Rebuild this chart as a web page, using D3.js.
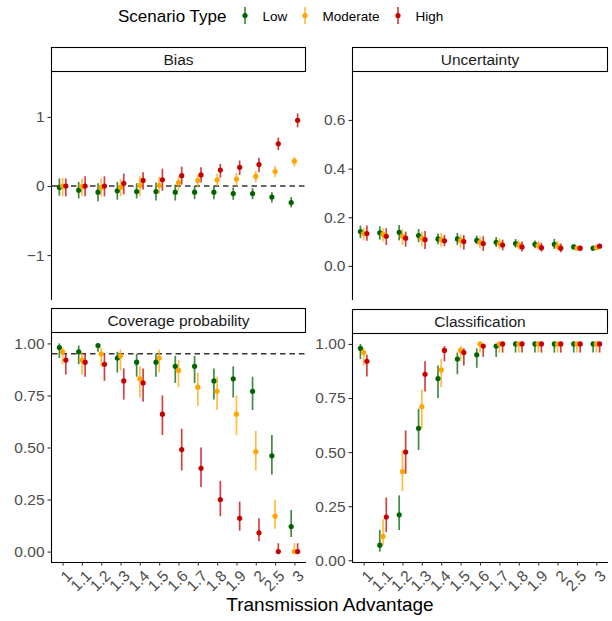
<!DOCTYPE html>
<html>
<head>
<meta charset="utf-8">
<script src="https://cdn.jsdelivr.net/npm/d3@7"></script>
<style>
  body { margin: 0; background: #fff; }
  text { font-family: "Liberation Sans", Arial, sans-serif; }
</style>
</head>
<body>
<div id="chart"></div>
<script>
// categories on the x axis (discrete)
var categories = ["1", "1.1", "1.2", "1.3", "1.4", "1.5", "1.6", "1.7", "1.8", "1.9", "2", "2.5", "3"];
var scenarios = ["Low", "Moderate", "High"];
var colors = ["#006400", "#FFA500", "#C40000"];

// each entry: [estimate, lower, upper]
var biasLow = [[-0.02, -0.14, 0.11], [-0.06, -0.18, 0.06], [-0.09, -0.22, 0.04], [-0.07, -0.20, 0.06], [-0.08, -0.18, 0.04], [-0.08, -0.21, 0.05], [-0.09, -0.21, 0.02], [-0.09, -0.19, 0.00], [-0.09, -0.19, 0.00], [-0.11, -0.20, -0.02], [-0.11, -0.19, -0.03], [-0.16, -0.24, -0.09], [-0.24, -0.31, -0.16]];
var biasModerate = [[0.00, -0.15, 0.12], [-0.01, -0.15, 0.11], [-0.02, -0.15, 0.11], [-0.02, -0.15, 0.10], [0.01, -0.14, 0.14], [0.01, -0.11, 0.13], [0.05, -0.06, 0.14], [0.08, -0.02, 0.17], [0.09, 0.00, 0.18], [0.10, 0.00, 0.19], [0.14, 0.05, 0.22], [0.21, 0.13, 0.29], [0.36, 0.28, 0.42]];
var biasHigh = [[0.00, -0.15, 0.11], [0.00, -0.15, 0.14], [0.00, -0.15, 0.14], [0.04, -0.12, 0.18], [0.08, -0.05, 0.20], [0.09, -0.07, 0.25], [0.15, 0.02, 0.28], [0.16, 0.05, 0.27], [0.23, 0.12, 0.32], [0.27, 0.16, 0.37], [0.31, 0.20, 0.41], [0.61, 0.52, 0.70], [0.95, 0.85, 1.05]];

var uncLow = [[0.141, 0.114, 0.166], [0.136, 0.108, 0.163], [0.138, 0.105, 0.168], [0.125, 0.097, 0.152], [0.111, 0.089, 0.133], [0.111, 0.086, 0.136], [0.105, 0.089, 0.125], [0.097, 0.078, 0.119], [0.092, 0.075, 0.111], [0.089, 0.073, 0.105], [0.089, 0.070, 0.111], [0.078, 0.067, 0.089], [0.073, 0.064, 0.081]];
var uncModerate = [[0.133, 0.105, 0.158], [0.130, 0.100, 0.155], [0.122, 0.086, 0.152], [0.114, 0.081, 0.141], [0.108, 0.078, 0.136], [0.105, 0.075, 0.130], [0.097, 0.073, 0.122], [0.092, 0.070, 0.114], [0.086, 0.067, 0.105], [0.084, 0.067, 0.103], [0.081, 0.064, 0.103], [0.073, 0.064, 0.081], [0.075, 0.067, 0.084]];
var uncHigh = [[0.133, 0.103, 0.166], [0.122, 0.086, 0.155], [0.114, 0.079, 0.141], [0.108, 0.070, 0.144], [0.103, 0.081, 0.127], [0.100, 0.067, 0.127], [0.092, 0.062, 0.122], [0.086, 0.064, 0.108], [0.078, 0.059, 0.100], [0.075, 0.059, 0.095], [0.073, 0.056, 0.092], [0.073, 0.062, 0.081], [0.081, 0.073, 0.089]];

var covLow = [[0.98, 0.93, 1.00], [0.96, 0.90, 0.99], [0.99, 0.96, 1.00], [0.93, 0.86, 0.96], [0.91, 0.84, 0.95], [0.91, 0.84, 0.95], [0.89, 0.81, 0.94], [0.89, 0.81, 0.94], [0.82, 0.73, 0.88], [0.83, 0.74, 0.89], [0.77, 0.68, 0.84], [0.46, 0.37, 0.56], [0.12, 0.07, 0.20]];
var covModerate = [[0.96, 0.90, 0.98], [0.92, 0.85, 0.96], [0.95, 0.89, 0.98], [0.94, 0.87, 0.97], [0.83, 0.74, 0.89], [0.93, 0.86, 0.97], [0.87, 0.79, 0.92], [0.79, 0.70, 0.86], [0.77, 0.68, 0.84], [0.66, 0.56, 0.75], [0.48, 0.39, 0.58], [0.17, 0.11, 0.25], [0.00, 0.00, 0.04]];
var covHigh = [[0.92, 0.85, 0.95], [0.91, 0.84, 0.95], [0.90, 0.82, 0.95], [0.82, 0.73, 0.88], [0.81, 0.72, 0.88], [0.66, 0.56, 0.75], [0.49, 0.39, 0.59], [0.40, 0.31, 0.50], [0.25, 0.17, 0.34], [0.16, 0.10, 0.24], [0.09, 0.05, 0.16], [0.00, 0.00, 0.04], [0.00, 0.00, 0.04]];

var clsLow = [[0.98, 0.93, 1.00], [0.07, 0.04, 0.14], [0.21, 0.14, 0.30], [0.61, 0.51, 0.70], [0.84, 0.75, 0.90], [0.93, 0.86, 0.96], [0.95, 0.89, 0.98], [0.99, 0.94, 1.00], [1.00, 0.96, 1.00], [1.00, 0.96, 1.00], [1.00, 0.96, 1.00], [1.00, 0.96, 1.00], [1.00, 0.96, 1.00]];
var clsModerate = [[0.96, 0.90, 0.98], [0.11, 0.07, 0.19], [0.41, 0.32, 0.51], [0.71, 0.61, 0.79], [0.88, 0.80, 0.93], [0.97, 0.92, 0.99], [1.00, 0.96, 1.00], [1.00, 0.96, 1.00], [1.00, 0.96, 1.00], [1.00, 0.96, 1.00], [1.00, 0.96, 1.00], [1.00, 0.96, 1.00], [1.00, 0.96, 1.00]];
var clsHigh = [[0.92, 0.85, 0.95], [0.20, 0.13, 0.29], [0.50, 0.40, 0.60], [0.86, 0.78, 0.92], [0.97, 0.92, 0.99], [0.96, 0.90, 0.98], [0.99, 0.94, 1.00], [1.00, 0.96, 1.00], [1.00, 0.96, 1.00], [1.00, 0.96, 1.00], [1.00, 0.96, 1.00], [1.00, 0.96, 1.00], [1.00, 0.96, 1.00]];

var svgWidth = 612;
var svgHeight = 621;

var svg = d3.select("#chart")
  .append("svg")
  .attr("width", svgWidth)
  .attr("height", svgHeight);

// facet layout
var panels = [
  { title: "Bias", series: [biasLow, biasModerate, biasHigh], domain: [-1.65, 1.65], ticks: [-1, 0, 1], fmt: d3.format("d"), ref: 0,
    left: 51, right: 306, top: 72, bottom: 300, xaxis: false },
  { title: "Uncertainty", series: [uncLow, uncModerate, uncHigh], domain: [-0.14, 0.797], ticks: [0, 0.2, 0.4, 0.6], fmt: d3.format(".1f"), ref: null,
    left: 352, right: 608, top: 72, bottom: 300, xaxis: false },
  { title: "Coverage probability", series: [covLow, covModerate, covHigh], domain: [-0.05, 1.05], ticks: [0, 0.25, 0.5, 0.75, 1], fmt: d3.format(".2f"), ref: 0.95,
    left: 51, right: 306, top: 333, bottom: 562, xaxis: true },
  { title: "Classification", series: [clsLow, clsModerate, clsHigh], domain: [-0.008, 1.046], ticks: [0, 0.25, 0.5, 0.75, 1], fmt: d3.format(".2f"), ref: null,
    left: 352, right: 608, top: 334, bottom: 562, xaxis: true }
];

var stripH = 25;

panels.forEach(function(p) {
  var x = d3.scalePoint().domain(categories).range([p.left, p.right]).padding(0.6);
  var y = d3.scaleLinear().domain(p.domain).range([p.bottom, p.top]);
  var dodge = x.step() / 6;

  var g = svg.append("g");

  // strip
  g.append("rect")
    .attr("x", p.left + 0.5)
    .attr("y", p.top - stripH + 0.5)
    .attr("width", p.right - p.left - 1)
    .attr("height", stripH - 1)
    .attr("fill", "#fff")
    .attr("stroke", "#000")
    .attr("stroke-width", 1.1);
  g.append("text")
    .attr("x", (p.left + p.right) / 2)
    .attr("y", p.top - stripH / 2)
    .attr("dy", "0.36em")
    .attr("text-anchor", "middle")
    .attr("font-size", 15.5)
    .attr("fill", "#1a1a1a")
    .text(p.title);

  // y axis
  var yAxis = d3.axisLeft(y).tickValues(p.ticks).tickFormat(p.fmt).tickSize(3.5).tickPadding(3);
  var ya = g.append("g")
    .attr("transform", "translate(" + p.left + ",0)")
    .call(yAxis);
  ya.select(".domain").attr("d", "M0.5," + p.top + "V" + p.bottom).attr("stroke", "#000").attr("stroke-width", 1.1);
  ya.selectAll(".tick line").attr("stroke", "#333").attr("stroke-width", 1.1);
  ya.selectAll(".tick text").attr("fill", "#4d4d4d").attr("font-size", 15.5).attr("font-family", "Liberation Sans, Arial, sans-serif");

  // x axis only on bottom row
  if (p.xaxis) {
    var xAxis = d3.axisBottom(x).tickSize(3.5).tickSizeOuter(0);
    var xa = g.append("g")
      .attr("transform", "translate(0," + p.bottom + ")")
      .call(xAxis);
    xa.select(".domain").attr("d", "M" + p.left + ",0.5H" + p.right).attr("stroke", "#000").attr("stroke-width", 1.1);
    xa.selectAll(".tick line").attr("stroke", "#333").attr("stroke-width", 1.1);
    xa.selectAll(".tick text")
      .attr("fill", "#4d4d4d")
      .attr("font-size", 15.5)
      .attr("font-family", "Liberation Sans, Arial, sans-serif")
      .attr("text-anchor", "end")
      .attr("y", 0)
      .attr("dy", 0)
      .attr("transform", "translate(2,7) rotate(-45)")
      .attr("dominant-baseline", "hanging");
  }

  // dashed reference line
  if (p.ref !== null) {
    g.append("line")
      .attr("x1", p.left + 1)
      .attr("x2", p.right)
      .attr("y1", y(p.ref))
      .attr("y2", y(p.ref))
      .attr("stroke", "#333")
      .attr("stroke-width", 1.4)
      .attr("stroke-dasharray", "5.5,4");
  }

  // error bars then points
  var rows = [];
  p.series.forEach(function(s, si) {
    s.forEach(function(v, ci) {
      rows.push({ cat: categories[ci], si: si, est: v[0], lo: v[1], hi: v[2] });
    });
  });

  g.selectAll("line.bar")
    .data(rows)
    .enter()
    .append("line")
    .attr("class", "bar")
    .attr("x1", d => x(d.cat) + (d.si - 1) * dodge)
    .attr("x2", d => x(d.cat) + (d.si - 1) * dodge)
    .attr("y1", d => y(d.lo))
    .attr("y2", d => y(d.hi))
    .attr("stroke", d => colors[d.si])
    .attr("stroke-width", 1.7)
    .attr("stroke-opacity", 0.75);

  g.selectAll("circle")
    .data(rows)
    .enter()
    .append("circle")
    .attr("cx", d => x(d.cat) + (d.si - 1) * dodge)
    .attr("cy", d => y(d.est))
    .attr("r", 2.6)
    .attr("fill", d => colors[d.si]);
});

// axis title
svg.append("text")
  .attr("x", 330)
  .attr("y", 611)
  .attr("text-anchor", "middle")
  .attr("font-size", 19)
  .attr("fill", "#000")
  .text("Transmission Advantage");

// legend
var legend = svg.append("g");
legend.append("text")
  .attr("x", 118)
  .attr("y", 16)
  .attr("dy", "0.36em")
  .attr("font-size", 17)
  .attr("fill", "#000")
  .text("Scenario Type");

var legendKeyX = [245, 305, 398];
scenarios.forEach(function(s, i) {
  legend.append("line")
    .attr("x1", legendKeyX[i]).attr("x2", legendKeyX[i])
    .attr("y1", 7).attr("y2", 24)
    .attr("stroke", colors[i])
    .attr("stroke-width", 1.7)
    .attr("stroke-opacity", 0.75);
  legend.append("circle")
    .attr("cx", legendKeyX[i])
    .attr("cy", 15.5)
    .attr("r", 2.6)
    .attr("fill", colors[i]);
  legend.append("text")
    .attr("x", legendKeyX[i] + 17.5)
    .attr("y", 16)
    .attr("dy", "0.36em")
    .attr("font-size", 13.5)
    .attr("fill", "#000")
    .text(s);
});
</script>
</body>
</html>
